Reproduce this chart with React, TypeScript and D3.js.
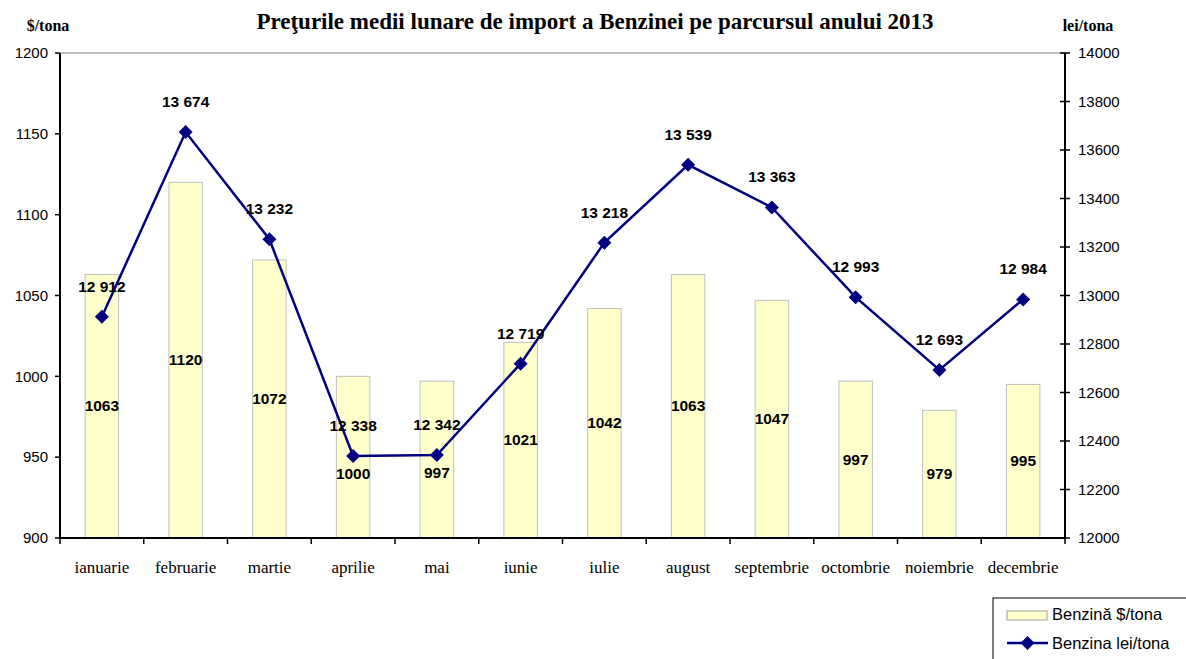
import React from "react";
import * as d3 from "d3";

const months = [
  "ianuarie", "februarie", "martie", "aprilie", "mai", "iunie",
  "iulie", "august", "septembrie", "octombrie", "noiembrie", "decembrie",
];
const usdPerTon = [1063, 1120, 1072, 1000, 997, 1021, 1042, 1063, 1047, 997, 979, 995];
const leiPerTon = [12912, 13674, 13232, 12338, 12342, 12719, 13218, 13539, 13363, 12993, 12693, 12984];
const leftTicks = [900, 950, 1000, 1050, 1100, 1150, 1200];
const rightTicks = [12000, 12200, 12400, 12600, 12800, 13000, 13200, 13400, 13600, 13800, 14000];

const W = 1186;
const H = 659;
const margin = { top: 53, right: 121, bottom: 121, left: 60 };

const fmtSpace = (v: number) => d3.format(",")(v).replace(/,/g, " ");

export default function App() {
  const innerW = W - margin.left - margin.right;
  const innerH = H - margin.top - margin.bottom;

  const x = d3.scaleBand<string>().domain(months).range([0, innerW]).padding(0);
  const yL = d3.scaleLinear().domain([900, 1200]).range([innerH, 0]);
  const yR = d3.scaleLinear().domain([12000, 14000]).range([innerH, 0]);
  const barW = x.bandwidth() * 0.4;
  const cx = (m: string) => (x(m) ?? 0) + x.bandwidth() / 2;

  const line = d3
    .line<number>()
    .x((_, i) => cx(months[i]))
    .y((d) => yR(d));

  // excel-like diamond = square turned 45deg
  const diamond = d3.symbol().type(d3.symbolSquare).size(98)() as string;

  const sans = "'Liberation Sans', Arial, sans-serif";
  const serif = "'Liberation Serif', 'Times New Roman', serif";

  return (
    <div style={{ position: "absolute", left: 0, top: 0 }}>
      <svg width={W} height={H} style={{ display: "block", background: "#fff" }}>
        {/* titles */}
        <text x={595} y={29} textAnchor="middle" fontFamily={serif} fontWeight="bold" fontSize={23}>
          Preţurile medii lunare de import a Benzinei pe parcursul anului 2013
        </text>
        <text x={48} y={31} textAnchor="middle" fontFamily={serif} fontWeight="bold" fontSize={16}>
          $/tona
        </text>
        <text x={1088} y={31} textAnchor="middle" fontFamily={serif} fontWeight="bold" fontSize={16}>
          lei/tona
        </text>

        <g transform={`translate(${margin.left},${margin.top})`}>
          {/* top border line */}
          <line x1={0} x2={innerW} y1={0} y2={0} stroke="#808080" strokeWidth={1} />

          {/* bars */}
          {usdPerTon.map((v, i) => (
            <rect
              key={months[i]}
              x={cx(months[i]) - barW / 2}
              y={yL(v)}
              width={barW}
              height={innerH - yL(v)}
              fill="#FFFFCC"
              stroke="#C0C0C0"
              strokeWidth={1}
            />
          ))}

          {/* line */}
          <path d={line(leiPerTon) ?? ""} fill="none" stroke="#000080" strokeWidth={2.5} />
          {leiPerTon.map((v, i) => (
            <path
              key={months[i]}
              d={diamond}
              transform={`translate(${cx(months[i])},${yR(v)}) rotate(45)`}
              fill="#000080"
            />
          ))}

          {/* bar labels: centred in bar, pushed under the marker when they collide */}
          {usdPerTon.map((v, i) => {
            const mid = (yL(v) + innerH) / 2;
            const my = yR(leiPerTon[i]);
            const ly = Math.abs(mid - my) < 14 ? my + 18 : mid;
            return (
              <text
                key={months[i]}
                x={cx(months[i])}
                y={ly + 5}
                textAnchor="middle"
                fontFamily={sans}
                fontWeight="bold"
                fontSize={15.5}
              >
                {v}
              </text>
            );
          })}

          {/* line labels */}
          {leiPerTon.map((v, i) => (
            <text
              key={months[i]}
              x={cx(months[i])}
              y={yR(v) - 25}
              textAnchor="middle"
              fontFamily={sans}
              fontWeight="bold"
              fontSize={15.5}
            >
              {fmtSpace(v)}
            </text>
          ))}

          {/* left axis */}
          <line x1={0} x2={0} y1={0} y2={innerH} stroke="#000" strokeWidth={2} />
          {leftTicks.map((t) => (
            <g key={t} transform={`translate(0,${yL(t)})`}>
              <line x1={-5} x2={0} stroke="#000" strokeWidth={1.5} />
              <text x={-12} dy="0.35em" textAnchor="end" fontFamily={sans} fontSize={15}>
                {t}
              </text>
            </g>
          ))}

          {/* right axis */}
          <line x1={innerW} x2={innerW} y1={0} y2={innerH} stroke="#000" strokeWidth={2} />
          {rightTicks.map((t) => (
            <g key={t} transform={`translate(${innerW},${yR(t)})`}>
              <line x1={-5} x2={5} stroke="#000" strokeWidth={1.5} />
              <text x={13} dy="0.35em" textAnchor="start" fontFamily={sans} fontSize={15}>
                {t}
              </text>
            </g>
          ))}

          {/* bottom axis */}
          <line x1={0} x2={innerW} y1={innerH} y2={innerH} stroke="#000" strokeWidth={2} />
          {months.map((m) => (
            <g key={m}>
              <line x1={x(m) ?? 0} x2={x(m) ?? 0} y1={innerH} y2={innerH + 6} stroke="#000" strokeWidth={1.5} />
              <text x={cx(m)} y={innerH + 35} textAnchor="middle" fontFamily={serif} fontSize={17}>
                {m}
              </text>
            </g>
          ))}
          <line x1={innerW} x2={innerW} y1={innerH} y2={innerH + 6} stroke="#000" strokeWidth={1.5} />
        </g>

        {/* legend */}
        <g transform="translate(993,598)">
          <rect x={0} y={0} width={200} height={70} fill="#fff" stroke="#000" strokeWidth={1} />
          <rect x={14} y={13} width={40} height={9} fill="#FFFFCC" stroke="#A0A0A0" strokeWidth={1} />
          <text x={59} y={22} fontFamily={sans} fontSize={16.5}>Benzină $/tona</text>
          <line x1={14} x2={55} y1={45} y2={45} stroke="#000080" strokeWidth={2.5} />
          <path d={diamond} transform="translate(34.5,45) rotate(45)" fill="#000080" />
          <text x={59} y={51} fontFamily={sans} fontSize={16.5}>Benzina lei/tona</text>
        </g>
      </svg>
    </div>
  );
}
